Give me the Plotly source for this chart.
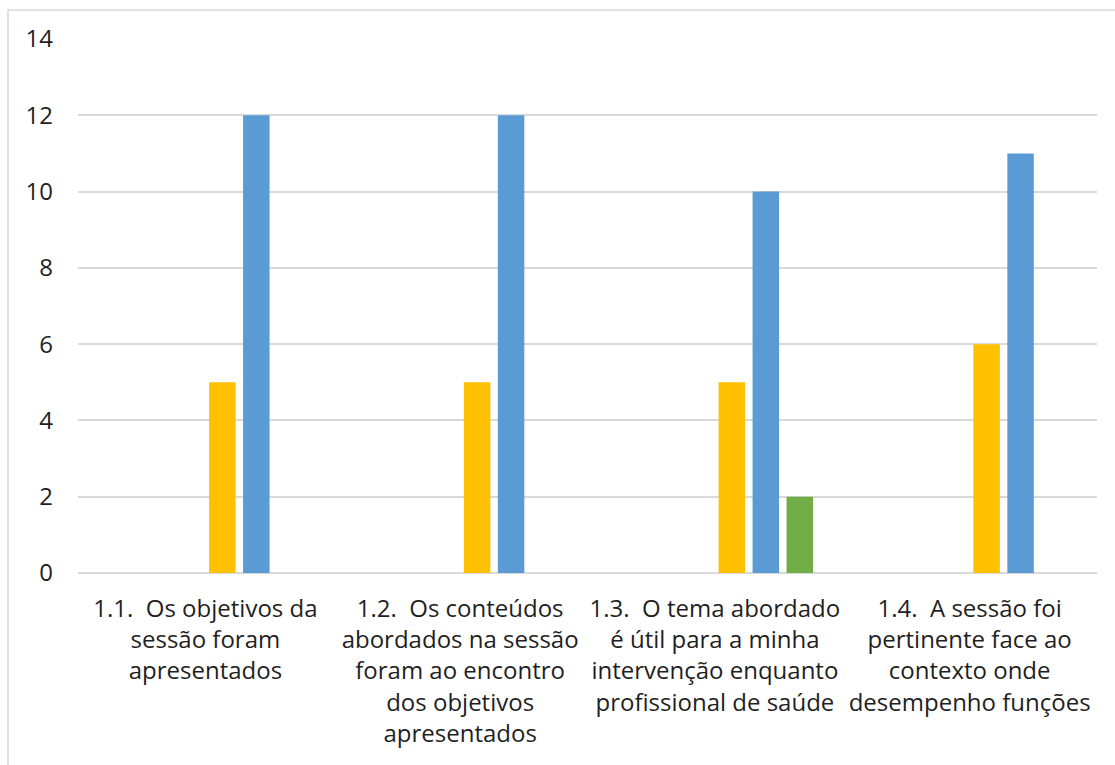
import plotly.graph_objects as go

categories = [
    "1.1.  Os objetivos da<br>sessão foram<br>apresentados",
    "1.2.  Os conteúdos<br>abordados na sessão<br>foram ao encontro<br>dos objetivos<br>apresentados",
    "1.3.  O tema abordado<br>é útil para a minha<br>intervenção enquanto<br>profissional de saúde",
    "1.4.  A sessão foi<br>pertinente face ao<br>contexto onde<br>desempenho funções",
]
series_names = ["1", "2", "3", "4", "5", "6"]
series_values = [
    [0, 0, 0, 0],
    [0, 0, 0, 0],
    [0, 0, 0, 0],
    [5, 5, 5, 6],
    [12, 12, 10, 11],
    [0, 0, 2, 0],
]
series_colors = ["#4472C4", "#ED7D31", "#A5A5A5", "#FFC000", "#5B9BD5", "#70AD47"]
y_ticks = [0, 2, 4, 6, 8, 10, 12, 14]

W, H = 1115, 765
L, R, T, B = 78, 18, 39, 192

fig = go.Figure()
for name, vals, col in zip(series_names, series_values, series_colors):
    fig.add_trace(go.Bar(x=categories, y=vals, name=name, marker_color=col,
                         marker_line_width=0, hoverinfo="skip"))

pw, ph = W - L - R, H - T - B
fig.add_shape(type="rect", xref="paper", yref="paper",
              x0=(8 - L) / pw, x1=(W + 5 - L) / pw,
              y0=-(H + 5 - T - ph) / ph, y1=1 + (T - 10) / ph,
              line=dict(color="#d9d9d9", width=1.5), fillcolor="rgba(0,0,0,0)",
              layer="below")

fig.update_layout(
    width=W, height=H,
    margin=dict(l=L, r=R, t=T, b=B),
    paper_bgcolor="white", plot_bgcolor="white",
    barmode="group", bargap=0.2, bargroupgap=0.22,
    showlegend=False,
    font=dict(family="Open Sans", size=24, color="#1f1f1f"),
    xaxis=dict(showgrid=False, showline=False, ticks="", ticklabelstandoff=19,
               tickfont=dict(size=24)),
    yaxis=dict(range=[0, 14], tickvals=y_ticks, showgrid=True,
               gridcolor="#d9d9d9", gridwidth=1.5, zeroline=True,
               zerolinecolor="#d9d9d9", zerolinewidth=1.5, showline=False,
               ticks="", ticklabelstandoff=24, tickfont=dict(size=24)),
)

fig.write_html("out.html")
